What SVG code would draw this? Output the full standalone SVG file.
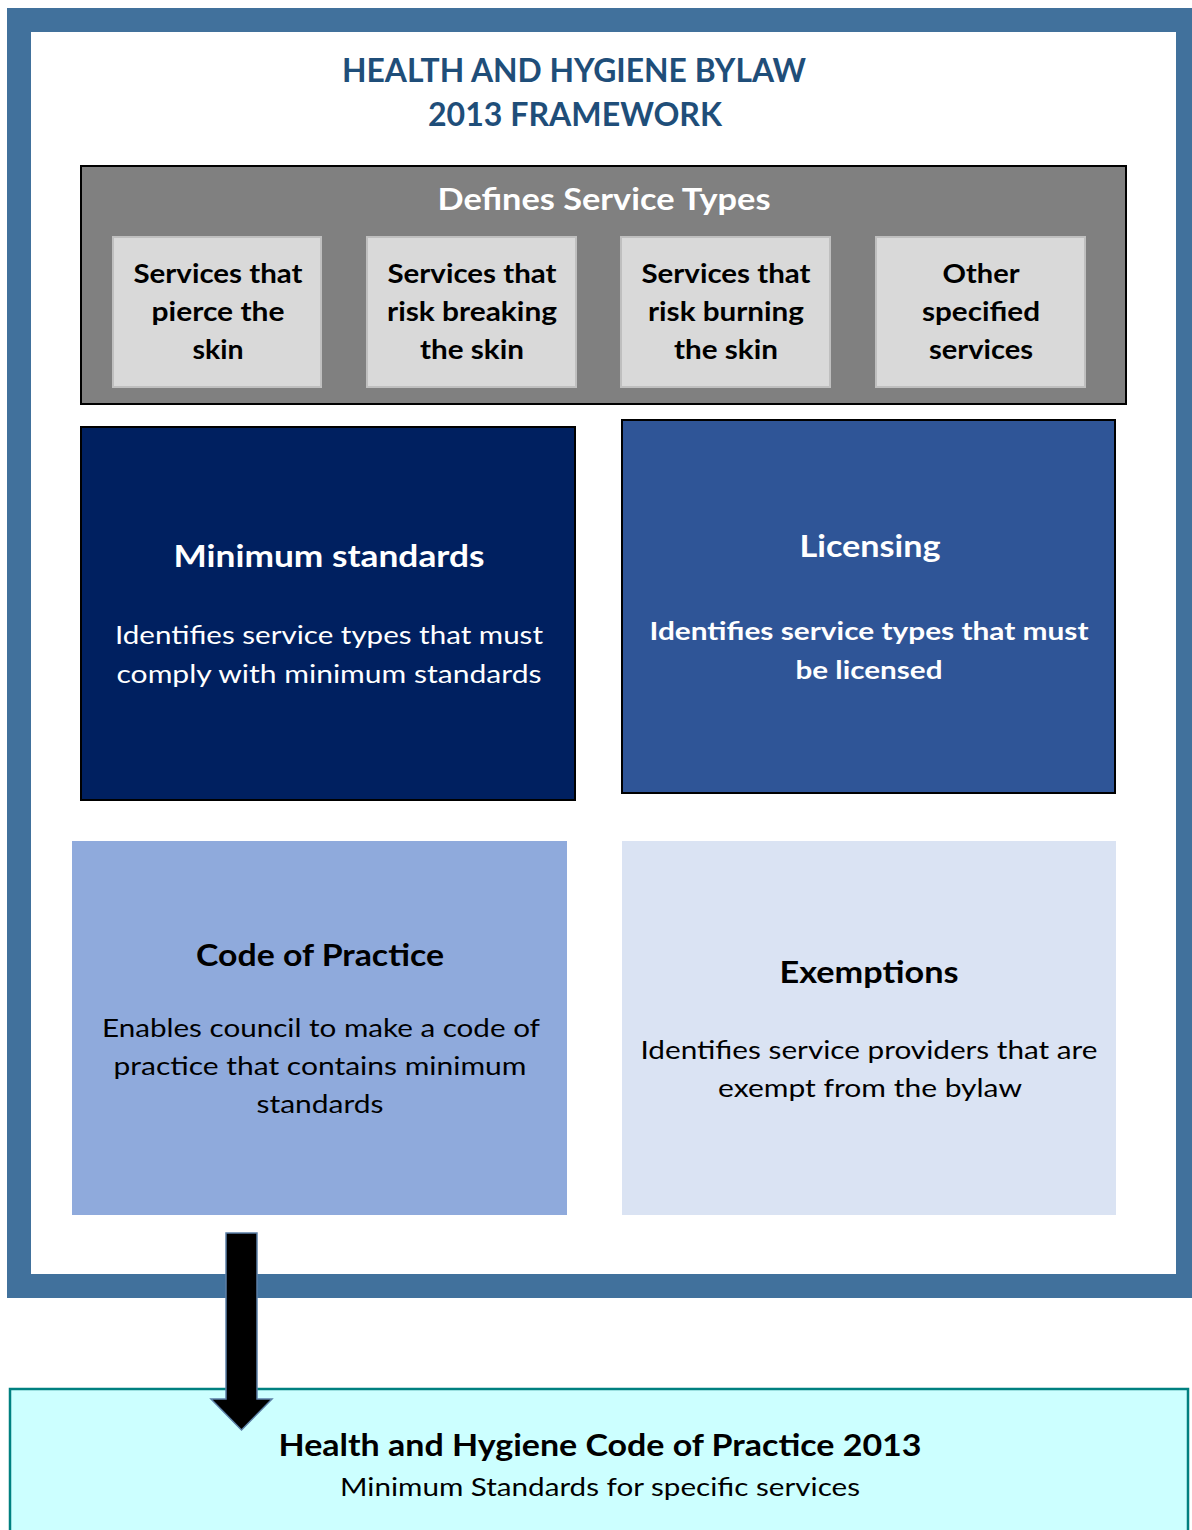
<svg xmlns="http://www.w3.org/2000/svg" width="1192" height="1530" viewBox="0 0 1192 1530">
  <style>
    text { font-family: Lato, "Open Sans", "Liberation Sans", sans-serif; text-anchor: middle; }
    .title { font-size: 33px; font-weight: 700; fill: #1F4E79; }
    .band { font-size: 30px; font-weight: 700; fill: #FFFFFF; }
    .svc { font-size: 26px; font-weight: 700; fill: #000000; }
    .head-w { font-size: 31px; font-weight: 700; fill: #FFFFFF; }
    .head-k { font-size: 31px; font-weight: 700; fill: #000000; }
    .body-w { font-size: 25px; font-weight: 400; fill: #FFFFFF; }
    .body-wb { font-size: 25px; font-weight: 700; fill: #FFFFFF; }
    .body-k { font-size: 25px; font-weight: 400; fill: #000000; }
    .svc-box { fill: #D9D9D9; stroke: #BFBFBF; stroke-width: 2; }
  </style>

  <!-- outer framework border -->
  <g id="framework">
    <rect x="0" y="0" width="1192" height="1530" fill="#FFFFFF"/>
    <rect x="19" y="20" width="1169" height="1266" fill="#FFFFFF" stroke="#41719C" stroke-width="24"/>
    <text class="title" x="574" y="82" textLength="464" lengthAdjust="spacingAndGlyphs">HEALTH AND HYGIENE BYLAW</text>
    <text class="title" x="575" y="126" textLength="294" lengthAdjust="spacingAndGlyphs">2013 FRAMEWORK</text>
  </g>

  <!-- service types band -->
  <g id="service-types">
    <rect x="81" y="166" width="1045" height="238" fill="#808080" stroke="#000000" stroke-width="2"/>
    <text class="band" x="604" y="210" textLength="333" lengthAdjust="spacingAndGlyphs">Defines Service Types</text>
  </g>

  <g id="svc-pierce">
    <rect class="svc-box" x="113" y="237" width="208" height="150"/>
    <text class="svc" x="218" y="283" textLength="169" lengthAdjust="spacingAndGlyphs">Services that</text>
    <text class="svc" x="218" y="321" textLength="133" lengthAdjust="spacingAndGlyphs">pierce the</text>
    <text class="svc" x="218" y="359" textLength="51" lengthAdjust="spacingAndGlyphs">skin</text>
  </g>

  <g id="svc-breaking">
    <rect class="svc-box" x="367" y="237" width="209" height="150"/>
    <text class="svc" x="472" y="283" textLength="169" lengthAdjust="spacingAndGlyphs">Services that</text>
    <text class="svc" x="472" y="321" textLength="170" lengthAdjust="spacingAndGlyphs">risk breaking</text>
    <text class="svc" x="472" y="359" textLength="104" lengthAdjust="spacingAndGlyphs">the skin</text>
  </g>

  <g id="svc-burning">
    <rect class="svc-box" x="621" y="237" width="209" height="150"/>
    <text class="svc" x="726" y="283" textLength="169" lengthAdjust="spacingAndGlyphs">Services that</text>
    <text class="svc" x="726" y="321" textLength="156" lengthAdjust="spacingAndGlyphs">risk burning</text>
    <text class="svc" x="726" y="359" textLength="104" lengthAdjust="spacingAndGlyphs">the skin</text>
  </g>

  <g id="svc-other">
    <rect class="svc-box" x="876" y="237" width="209" height="150"/>
    <text class="svc" x="981" y="283" textLength="77" lengthAdjust="spacingAndGlyphs">Other</text>
    <text class="svc" x="981" y="321" textLength="118" lengthAdjust="spacingAndGlyphs">specified</text>
    <text class="svc" x="981" y="359" textLength="104" lengthAdjust="spacingAndGlyphs">services</text>
  </g>

  <!-- four function blocks -->
  <g id="minimum-standards">
    <rect x="81" y="427" width="494" height="373" fill="#002060" stroke="#000000" stroke-width="2"/>
    <text class="head-w" x="329" y="567" textLength="311" lengthAdjust="spacingAndGlyphs">Minimum standards</text>
    <text class="body-w" x="329" y="644" textLength="428" lengthAdjust="spacingAndGlyphs">Identifies service types that must</text>
    <text class="body-w" x="329" y="683" textLength="425" lengthAdjust="spacingAndGlyphs">comply with minimum standards</text>
  </g>

  <g id="licensing">
    <rect x="622" y="420" width="493" height="373" fill="#2F5597" stroke="#000000" stroke-width="2"/>
    <text class="head-w" x="870" y="557" textLength="141" lengthAdjust="spacingAndGlyphs">Licensing</text>
    <text class="body-wb" x="869" y="640" textLength="439" lengthAdjust="spacingAndGlyphs">Identifies service types that must</text>
    <text class="body-wb" x="869" y="679" textLength="147" lengthAdjust="spacingAndGlyphs">be licensed</text>
  </g>

  <g id="code-of-practice">
    <rect x="72" y="841" width="495" height="374" fill="#8FAADC"/>
    <text class="head-k" x="320" y="966" textLength="248" lengthAdjust="spacingAndGlyphs">Code of Practice</text>
    <text class="body-k" x="321" y="1037" textLength="438" lengthAdjust="spacingAndGlyphs">Enables council to make a code of</text>
    <text class="body-k" x="320" y="1075" textLength="413" lengthAdjust="spacingAndGlyphs">practice that contains minimum</text>
    <text class="body-k" x="320" y="1113" textLength="127" lengthAdjust="spacingAndGlyphs">standards</text>
  </g>

  <g id="exemptions">
    <rect x="622" y="841" width="494" height="374" fill="#DAE3F3"/>
    <text class="head-k" x="869" y="983" textLength="179" lengthAdjust="spacingAndGlyphs">Exemptions</text>
    <text class="body-k" x="869" y="1059" textLength="457" lengthAdjust="spacingAndGlyphs">Identifies service providers that are</text>
    <text class="body-k" x="870" y="1097" textLength="304" lengthAdjust="spacingAndGlyphs">exempt from the bylaw</text>
  </g>

  <!-- code of practice document -->
  <g id="code-2013">
    <rect x="10" y="1389" width="1178" height="150" fill="#CCFFFF" stroke="#008080" stroke-width="2.5"/>
    <text class="head-k" x="600" y="1456" textLength="643" lengthAdjust="spacingAndGlyphs">Health and Hygiene Code of Practice 2013</text>
    <text class="body-k" x="600" y="1496" textLength="520" lengthAdjust="spacingAndGlyphs">Minimum Standards for specific services</text>
  </g>

  <!-- connectors -->
  <g id="connectors">
    <path d="M226,1233 L257,1233 L257,1399 L272,1399 L241.5,1430 L211,1399 L226,1399 Z" fill="#000000" stroke="#5B7FA6" stroke-width="1.5" stroke-linejoin="miter"/>
  </g>
</svg>
